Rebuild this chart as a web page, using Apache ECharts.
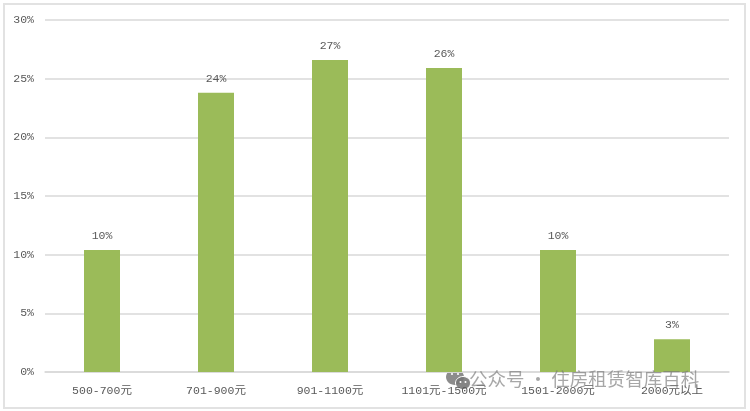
<!DOCTYPE html>
<html><head><meta charset="utf-8">
<style>html,body{margin:0;padding:0;background:#fff;overflow:hidden}
#frame{position:absolute;left:3px;top:3px;width:739px;height:402px;border:2px solid #e2e2e2}
#c{position:absolute;left:0;top:0;width:750px;height:411px}</style>
<script src="https://cdn.jsdelivr.net/npm/echarts@6/dist/echarts.min.js"></script>
</head><body><div id="frame"></div><div id="c"></div>
<script>
const categories = ['500-700元','701-900元','901-1100元','1101元-1500元','1501-2000元','2000元以上'];
const values = [10.4, 23.8, 26.6, 25.9, 10.4, 2.8];
const yTicks = {min:0, max:30, interval:5};
const watermark = '公众号 · 住房租赁智库百科';
const font = '"Liberation Mono","Noto Sans CJK SC",monospace';
const chart = echarts.init(document.getElementById('c'), null, {renderer:'canvas'});
chart.setOption({
  animation:false,
  backgroundColor:'transparent',
  grid:{left:45,right:21,top:20,bottom:39},
  xAxis:{type:'category',data:categories,
    axisLine:{lineStyle:{color:'#d9d9d9',width:1.5}},axisTick:{show:false},
    axisLabel:{color:'#595959',fontFamily:font,fontSize:11.5,margin:13,interval:0}},
  yAxis:{type:'value',min:yTicks.min,max:yTicks.max,interval:yTicks.interval,
    axisLine:{show:false},axisTick:{show:false},
    splitLine:{lineStyle:{color:'#d9d9d9',width:1.5}},
    axisLabel:{color:'#595959',fontFamily:font,fontSize:11.5,margin:11,formatter:'{value}%'}},
  series:[{type:'bar',data:values,barWidth:36,
    itemStyle:{color:'#9bbb59'},
    label:{show:true,position:'top',distance:8,color:'#595959',fontFamily:font,fontSize:11.5,
      formatter:p=>Math.round(p.value)+'%'}}],
  graphic:[
    {type:'text',z:100,left:469,top:370,style:{text:watermark,fill:'rgba(120,120,120,0.65)',fontSize:18.5,fontFamily:'"Noto Sans CJK SC"'}},
    {type:'group',z:100,left:446,top:369,children:[
      {type:'ellipse',shape:{cx:9,cy:8,rx:9,ry:8},style:{fill:'rgba(120,120,120,0.85)'}},
      {type:'ellipse',shape:{cx:17,cy:14,rx:7.5,ry:6.5},style:{fill:'rgba(120,120,120,0.9)',stroke:'#fff',lineWidth:1}},
      {type:'circle',shape:{cx:14.5,cy:13,r:1},style:{fill:'#fff'}},
      {type:'circle',shape:{cx:19.5,cy:13,r:1},style:{fill:'#fff'}},
      {type:'circle',shape:{cx:6,cy:5,r:1.1},style:{fill:'#fff'}},
      {type:'circle',shape:{cx:12,cy:5,r:1.1},style:{fill:'#fff'}}
    ]}
  ]
});
</script></body></html>
